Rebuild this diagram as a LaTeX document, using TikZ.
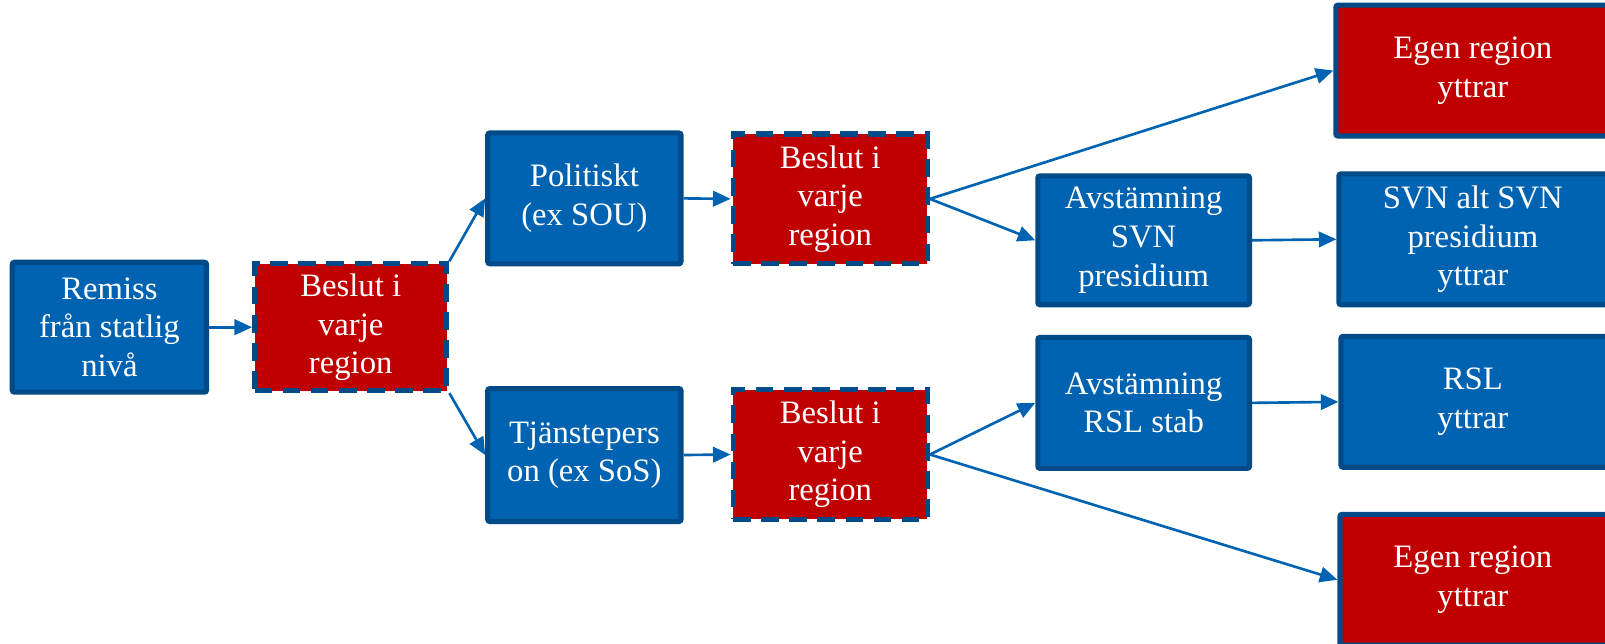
\documentclass[tikz,border=0pt]{standalone}
\usepackage{fontspec}
\setmainfont{Liberation Serif}
\usetikzlibrary{arrows.meta}
\definecolor{boxblue}{RGB}{0,99,177}
\definecolor{edgeblue}{RGB}{0,75,135}
\definecolor{boxred}{RGB}{192,0,0}
\definecolor{arrowblue}{RGB}{0,99,177}
\def\pxu{0.010225cm}
\begin{document}
\begin{tikzpicture}[x=\pxu,y=-\pxu,
  basebox/.style={draw=edgeblue, line width=1.45pt, text=white, inner sep=0pt,
    align=center, font=\fontsize{9.3pt}{11pt}\selectfont, rounded corners=0.6pt},
  bluebox/.style={basebox, fill=boxblue},
  redbox/.style={basebox, fill=boxred},
  dashbox/.style={basebox, fill=boxred, dash pattern=on 5pt off 3pt, rounded corners=0pt},
  conn/.style={draw=arrowblue, line width=0.75pt, -{Triangle[length=5pt,width=4.4pt]}}
]
\useasboundingbox (0,0) rectangle (1569.7,628.85);
\clip (0,0) rectangle (1569.7,628.85);
% column 1
\node[bluebox, minimum width=190*\pxu, minimum height=127*\pxu] (remiss) at (107,320) {Remiss\\från statlig\\nivå};
\node[dashbox, minimum width=188*\pxu, minimum height=124*\pxu] (b1) at (343,320) {Beslut i\\varje\\region};
% column 2
\node[bluebox, minimum width=189*\pxu, minimum height=128*\pxu] (pol) at (571.5,194) {Politiskt\\(ex SOU)};
\node[bluebox, minimum width=189*\pxu, minimum height=130*\pxu] (tj) at (571.5,445) {Tjänstepers\\on (ex SoS)};
% column 3
\node[dashbox, minimum width=190*\pxu, minimum height=127*\pxu] (b2) at (812,194.5) {Beslut i\\varje\\region};
\node[dashbox, minimum width=190*\pxu, minimum height=127*\pxu] (b3) at (812,444.5) {Beslut i\\varje\\region};
% column 4
\node[bluebox, minimum width=207*\pxu, minimum height=126*\pxu] (asvn) at (1118.5,235) {Avstämning\\SVN\\presidium};
\node[bluebox, minimum width=207*\pxu, minimum height=128*\pxu] (arsl) at (1118.5,394) {Avstämning\\RSL stab};
% column 5 (boxes run past the right edge)
\node[redbox, minimum width=340*\pxu, minimum height=128*\pxu, anchor=west] (egen1) at (1304,69)
  {\parbox{268\dimexpr\pxu\relax}{\centering Egen region\\yttrar}\hspace{72\dimexpr\pxu\relax}};
\node[bluebox, minimum width=340*\pxu, minimum height=128*\pxu, anchor=west] (svn) at (1307,234)
  {\parbox{262\dimexpr\pxu\relax}{\centering SVN alt SVN\\presidium\\yttrar}\hspace{78\dimexpr\pxu\relax}};
\node[bluebox, minimum width=340*\pxu, minimum height=128*\pxu, anchor=west] (rsl) at (1309,393)
  {\parbox{258\dimexpr\pxu\relax}{\centering RSL\\yttrar}\hspace{82\dimexpr\pxu\relax}};
\node[redbox, minimum width=340*\pxu, minimum height=128*\pxu, anchor=west] (egen2) at (1308,567)
  {\parbox{260\dimexpr\pxu\relax}{\centering Egen region\\yttrar}\hspace{80\dimexpr\pxu\relax}};
% connectors
\draw[conn] (remiss.east) -- (b1.west);
\draw[conn] (b1.north east) -- (pol.west);
\draw[conn] (b1.south east) -- (tj.west);
\draw[conn] (pol.east) -- (b2.west);
\draw[conn] (tj.east) -- (b3.west);
\draw[conn] (b2.east) -- (egen1.west);
\draw[conn] (b2.east) -- (asvn.west);
\draw[conn] (asvn.east) -- (svn.west);
\draw[conn] (b3.east) -- (arsl.west);
\draw[conn] (b3.east) -- (egen2.west);
\draw[conn] (arsl.east) -- (rsl.west);
\end{tikzpicture}
\end{document}
